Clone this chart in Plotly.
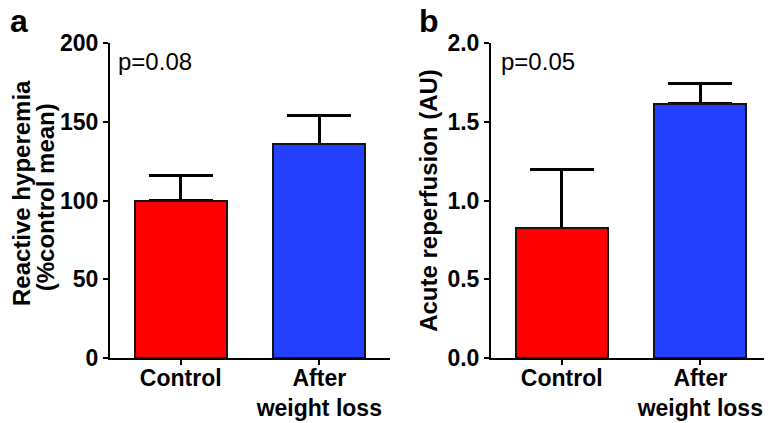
import plotly.graph_objects as go
from plotly.subplots import make_subplots

groups = ['Control', 'After<br>weight loss']
bar_colors = ['#FF0000', '#2541FF']

# panel a - reactive hyperemia (%control mean)
hyperemia_mean = [100, 135.7]
hyperemia_err = [15.6, 18.4]

# panel b - acute reperfusion (AU)
reperfusion_mean = [0.823, 1.615]
reperfusion_err = [0.377, 0.129]

font_family = 'Liberation Sans, Arial, sans-serif'

fig = make_subplots(rows=1, cols=2, horizontal_spacing=0.1528)

for col, (vals, errs) in enumerate([(hyperemia_mean, hyperemia_err),
                                    (reperfusion_mean, reperfusion_err)], start=1):
    # invisible bars only carry the (upper) error bars; the real bars are drawn
    # on top so the lower cap at the bar top is hidden
    fig.add_trace(go.Bar(
        x=[0, 1], y=vals, width=0.664,
        marker=dict(color='rgba(0,0,0,0)', line=dict(width=0)),
        error_y=dict(type='data', symmetric=False, array=errs, arrayminus=[0, 0],
                     color='black', thickness=3, width=32),
        showlegend=False, hoverinfo='skip',
    ), row=1, col=col)
    fig.add_trace(go.Bar(
        x=[0, 1], y=vals, width=0.664,
        marker=dict(color=bar_colors, line=dict(color='#141414', width=2)),
        showlegend=False,
    ), row=1, col=col)

axis_common = dict(
    showline=True, linecolor='black', linewidth=2,
    ticks='outside', ticklen=5, tickwidth=2, tickcolor='black',
    showgrid=False, zeroline=False, automargin=False,
)

for ax in ['xaxis', 'xaxis2']:
    fig.layout[ax].update(axis_common)
    fig.layout[ax].update(
        range=[-0.51, 1.51], tickvals=[0, 1], ticktext=groups, ticklabelstandoff=-7,
        tickfont=dict(family=font_family, size=23, color='black', weight='bold'))
fig.layout.xaxis.domain = [0, 0.4236]
fig.layout.xaxis2.domain = [0.5764, 1.0]

ytick_font = dict(family=font_family, size=23, color='black', weight='bold')
title_font = dict(family=font_family, size=24, color='black', weight='bold')
fig.layout.yaxis.update(axis_common)
fig.layout.yaxis.update(range=[0, 200], dtick=50, tickfont=ytick_font)
fig.layout.yaxis2.update(axis_common)
fig.layout.yaxis2.update(
    range=[0, 2.0], dtick=0.5, tickformat='.1f', tickfont=ytick_font,
    title=dict(text='Acute reperfusion (AU)', standoff=3, font=title_font))

# left y title: two rotated lines, set a bit tighter than plotly's line spacing
fig.add_annotation(x=-0.133, y=0.524, xref='paper', yref='paper',
                   text='Reactive hyperemia', textangle=-90, showarrow=False,
                   xanchor='center', yanchor='middle', font=title_font)
fig.add_annotation(x=-0.098, y=0.511, xref='paper', yref='paper',
                   text='(%control mean)', textangle=-90, showarrow=False,
                   xanchor='center', yanchor='middle', font=title_font)

annot_font = dict(family=font_family, size=24, color='black')
fig.add_annotation(x=-0.47, y=188, xref='x', yref='y', text='p=0.08',
                   showarrow=False, xanchor='left', yanchor='middle', font=annot_font)
fig.add_annotation(x=-0.45, y=1.88, xref='x2', yref='y2', text='p=0.05',
                   showarrow=False, xanchor='left', yanchor='middle', font=annot_font)

letter_font = dict(family=font_family, size=32, color='black', weight='bold')
fig.add_annotation(x=-0.1543, y=1.0714, xref='paper', yref='paper', text='a',
                   showarrow=False, xanchor='left', yanchor='middle', font=letter_font)
fig.add_annotation(x=0.4644, y=1.0714, xref='paper', yref='paper', text='b',
                   showarrow=False, xanchor='left', yanchor='middle', font=letter_font)

# the page body adds an 8px margin, so the figure is sized/offset to match
fig.update_layout(
    width=764, height=415,
    margin=dict(l=102, r=1, t=35, b=65),
    plot_bgcolor='white', paper_bgcolor='white',
    barmode='overlay', bargap=0,
)

fig.write_html('out.html')
